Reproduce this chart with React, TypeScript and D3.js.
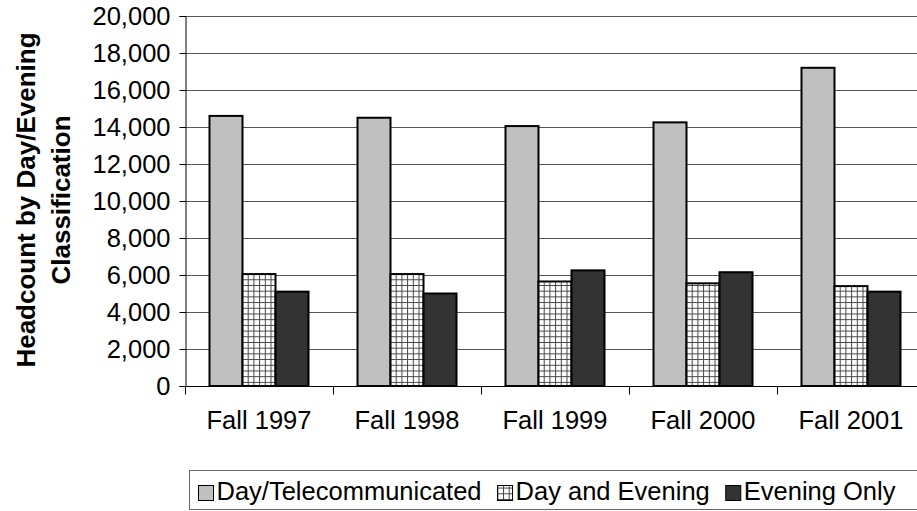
import * as d3 from "d3";
import React, { useRef, useEffect } from "react";

const categories = ["Fall 1997", "Fall 1998", "Fall 1999", "Fall 2000", "Fall 2001"];
const seriesNames = ["Day/Telecommunicated", "Day and Evening", "Evening Only"];
const dayTele = [14600, 14500, 14050, 14250, 17200];
const dayEvening = [6050, 6050, 5650, 5550, 5400];
const eveningOnly = [5100, 5000, 6250, 6150, 5100];
const yTicks = [0, 2000, 4000, 6000, 8000, 10000, 12000, 14000, 16000, 18000, 20000];

const width = 917;
const height = 511;
const margin = { top: 16, left: 185, bottom: 125 };
const plotRight = 925;
const fills = ["#c0c0c0", "url(#hatch)", "#333333"];
const font = "Liberation Sans, Arial, sans-serif";
const fontSize = 25.5;

const App = () => {
  const ref = useRef<SVGSVGElement>(null);

  useEffect(() => {
    const svg = d3.select(ref.current);
    svg.selectAll("*").remove();

    const defs = svg.append("defs");
    const pat = defs
      .append("pattern")
      .attr("id", "hatch")
      .attr("width", 5.7)
      .attr("height", 5.7)
      .attr("patternUnits", "userSpaceOnUse");
    pat.append("rect").attr("width", 5.7).attr("height", 5.7).attr("fill", "#fff");
    pat
      .append("path")
      .attr("d", "M0,0.5H5.7M0.5,0V5.7")
      .attr("stroke", "#444")
      .attr("stroke-width", 1);

    const y = d3.scaleLinear().domain([0, 20000]).range([height - margin.bottom, margin.top]);
    const x = d3.scaleBand().domain(categories).range([margin.left, plotRight]);
    const xs = d3
      .scaleBand()
      .domain(seriesNames)
      .range([24.5, x.bandwidth() - 24.5]);

    // gridlines
    svg
      .append("g")
      .selectAll("line")
      .data(yTicks.slice(1))
      .join("line")
      .attr("x1", margin.left)
      .attr("x2", plotRight)
      .attr("y1", (d) => Math.round(y(d)) + 0.5)
      .attr("y2", (d) => Math.round(y(d)) + 0.5)
      .attr("stroke", "#555")
      .attr("stroke-width", 1);

    const data = [dayTele, dayEvening, eveningOnly];
    const groups = svg
      .append("g")
      .selectAll("g")
      .data(categories)
      .join("g")
      .attr("transform", (d) => `translate(${x(d)},0)`);

    groups
      .selectAll("rect")
      .data((_, i) => seriesNames.map((s, k) => ({ s, k, v: data[k][i] })))
      .join("rect")
      .attr("x", (d) => xs(d.s))
      .attr("y", (d) => y(d.v))
      .attr("width", xs.bandwidth())
      .attr("height", (d) => y(0) - y(d.v))
      .attr("fill", (d) => fills[d.k])
      .attr("stroke", "#000")
      .attr("stroke-width", 2);

    // y axis
    const yAxis = svg
      .append("g")
      .attr("transform", `translate(${margin.left + 0.5},0)`)
      .call(
        d3
          .axisLeft(y)
          .tickValues(yTicks)
          .tickSize(6)
          .tickPadding(9)
          .tickFormat(d3.format(","))
      );
    yAxis.select(".domain").attr("stroke", "#000");
    yAxis.selectAll("line").attr("stroke", "#000");
    yAxis
      .selectAll("text")
      .attr("font-family", font)
      .attr("font-size", fontSize)
      .attr("fill", "#000");

    // x axis
    const xAxis = svg.append("g").attr("transform", `translate(0,${Math.round(y(0)) + 0.5})`);
    xAxis
      .append("line")
      .attr("x1", margin.left)
      .attr("x2", plotRight)
      .attr("stroke", "#000");
    xAxis
      .selectAll(".tk")
      .data(d3.range(categories.length + 1))
      .join("line")
      .attr("class", "tk")
      .attr("x1", (i) => margin.left + 0.5 + i * x.step())
      .attr("x2", (i) => margin.left + 0.5 + i * x.step())
      .attr("y1", 0)
      .attr("y2", 8)
      .attr("stroke", "#000");
    xAxis
      .selectAll("text")
      .data(categories)
      .join("text")
      .attr("x", (d) => x(d) + x.bandwidth() / 2)
      .attr("y", 42)
      .attr("text-anchor", "middle")
      .attr("font-family", font)
      .attr("font-size", fontSize)
      .text((d) => d);

    // y title
    svg
      .append("text")
      .attr("transform", `translate(35,200) rotate(-90)`)
      .attr("text-anchor", "middle")
      .attr("font-family", font)
      .attr("font-weight", "bold")
      .attr("font-size", 26)
      .selectAll("tspan")
      .data(["Headcount by Day/Evening", "Classification"])
      .join("tspan")
      .attr("x", 0)
      .attr("dy", (_, i) => (i === 0 ? 0 : 35))
      .text((d) => d);

    // legend
    const lg = svg.append("g").attr("transform", "translate(189.5,470.5)");
    lg.append("rect")
      .attr("width", 760)
      .attr("height", 39)
      .attr("fill", "#fff")
      .attr("stroke", "#666");
    let lx = 9;
    seriesNames.forEach((s, k) => {
      lg.append("rect")
        .attr("x", lx)
        .attr("y", 15)
        .attr("width", 15)
        .attr("height", 15)
        .attr("fill", fills[k])
        .attr("stroke", "#000");
      const t = lg
        .append("text")
        .attr("x", lx + 18)
        .attr("y", 29)
        .attr("font-family", font)
        .attr("font-size", fontSize)
        .text(s);
      const w = (t.node() as SVGTextElement).getComputedTextLength();
      lx += 18 + w + 16;
    });
  }, []);

  return (
    <svg
      ref={ref}
      width={width}
      height={height}
      style={{ position: "absolute", left: 0, top: 0, background: "#fff" }}
    />
  );
};

export default App;
